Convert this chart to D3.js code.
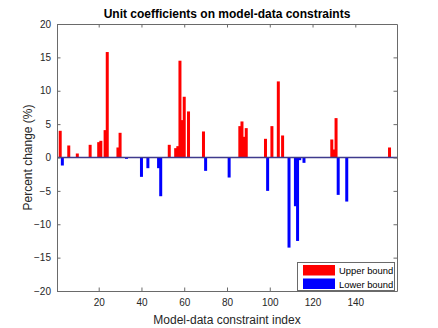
<!DOCTYPE html>
<html>
<head>
<meta charset="utf-8">
<script src="https://cdn.jsdelivr.net/npm/d3@7"></script>
<style>
  body { margin: 0; background: #fff; }
  text { font-family: "Liberation Sans", Arial, sans-serif; }
</style>
</head>
<body>
<svg id="chart"></svg>
<script>
// constraint index -> percent change
const upperIdx = [2, 6, 10, 16, 20, 21, 23, 24, 29, 30, 53, 56, 57, 58, 59, 60, 62, 69, 86, 87, 88, 89, 98, 101, 104, 106, 129, 130, 131, 156];
const upperVal = [4.0, 1.8, 0.6, 1.9, 2.3, 2.5, 4.1, 15.8, 1.5, 3.7, 1.9, 1.4, 1.7, 14.5, 5.6, 9.1, 6.9, 3.9, 4.7, 5.4, 3.1, 4.4, 2.8, 4.7, 11.4, 3.3, 2.7, 1.2, 5.9, 1.5];
const lowerIdx = [3, 33, 40, 43, 48, 49, 70, 81, 99, 109, 112, 113, 114, 116, 132, 136];
const lowerVal = [-1.2, -0.2, -2.9, -1.6, -1.6, -5.8, -2.0, -3.0, -5.0, -13.5, -7.3, -12.5, -0.4, -0.8, -5.6, -6.6];
const xTicks = [20, 40, 60, 80, 100, 120, 140];
const yTicks = [-20, -15, -10, -5, 0, 5, 10, 15, 20];
const seriesNames = ["Upper bound", "Lower bound"];
const seriesColors = ["#ff0000", "#0000ff"];

const W = 438, H = 328;
const L = 57, R = 397, T = 24, B = 291;
const barW = 1.4; // in index units

const svg = d3.select("#chart").attr("width", W).attr("height", H);

const x = d3.scaleLinear().domain([0.5, 159.5]).range([L, R]);
const y = d3.scaleLinear().domain([-20, 20]).range([B, T]);

svg.append("defs").append("clipPath").attr("id", "clip")
  .append("rect").attr("x", L).attr("y", T).attr("width", R - L).attr("height", B - T);

const plot = svg.append("g").attr("clip-path", "url(#clip)");

function drawBars(idx, vals, color) {
  plot.selectAll(null)
    .data(idx.map((d, i) => [d, vals[i]]))
    .enter()
    .append("rect")
    .attr("x", d => x(d[0] - barW / 2))
    .attr("width", x(barW) - x(0))
    .attr("y", d => y(Math.max(0, d[1])))
    .attr("height", d => Math.abs(y(d[1]) - y(0)))
    .attr("fill", color);
}
drawBars(upperIdx, upperVal, seriesColors[0]);
drawBars(lowerIdx, lowerVal, seriesColors[1]);

// baseline
plot.append("line")
  .attr("x1", L).attr("x2", R).attr("y1", y(0)).attr("y2", y(0))
  .attr("stroke", "#3f3a8c").attr("stroke-width", 1.3);

// axes (box with inward ticks)
const axisColor = "#6a6a6a";
const tk = 3.5;
function styleAxis(g) {
  g.select(".domain").attr("stroke", axisColor);
  g.selectAll(".tick line").attr("stroke", axisColor);
  g.selectAll(".tick text").attr("fill", "#262626").style("font-size", "10px");
}
svg.append("g").attr("transform", `translate(0,${B})`)
  .call(d3.axisBottom(x).tickValues(xTicks).tickSize(-tk).tickPadding(8).tickSizeOuter(0))
  .call(styleAxis);
svg.append("g").attr("transform", `translate(0,${T})`)
  .call(d3.axisTop(x).tickValues(xTicks).tickSize(-tk).tickFormat("").tickSizeOuter(0))
  .call(styleAxis);
svg.append("g").attr("transform", `translate(${L},0)`)
  .call(d3.axisLeft(y).tickValues(yTicks).tickSize(-tk).tickPadding(6).tickSizeOuter(0))
  .call(styleAxis);
svg.append("g").attr("transform", `translate(${R},0)`)
  .call(d3.axisRight(y).tickValues(yTicks).tickSize(-tk).tickFormat("").tickSizeOuter(0))
  .call(styleAxis);

// title and labels
svg.append("text").attr("x", (L + R) / 2).attr("y", 18)
  .attr("text-anchor", "middle").style("font-size", "12px").style("font-weight", "bold")
  .attr("fill", "#000").text("Unit coefficients on model-data constraints");
svg.append("text").attr("x", (L + R) / 2).attr("y", 324)
  .attr("text-anchor", "middle").style("font-size", "12px").attr("fill", "#262626")
  .text("Model-data constraint index");
svg.append("text").attr("transform", `translate(32,${(T + B) / 2}) rotate(-90)`)
  .attr("text-anchor", "middle").style("font-size", "12px").attr("fill", "#262626")
  .text("Percent change (%)");

// legend
const lg = svg.append("g");
lg.append("rect").attr("x", 297.5).attr("y", 262.5).attr("width", 97).attr("height", 28)
  .attr("fill", "#fff").attr("stroke", axisColor);
seriesNames.forEach((name, i) => {
  lg.append("rect").attr("x", 303).attr("y", 265 + i * 13.5).attr("width", 32).attr("height", 10.5)
    .attr("fill", seriesColors[i]);
  lg.append("text").attr("x", 339).attr("y", 274 + i * 13.5)
    .style("font-size", "9.4px").attr("fill", "#000").text(name);
});
</script>
</body>
</html>
